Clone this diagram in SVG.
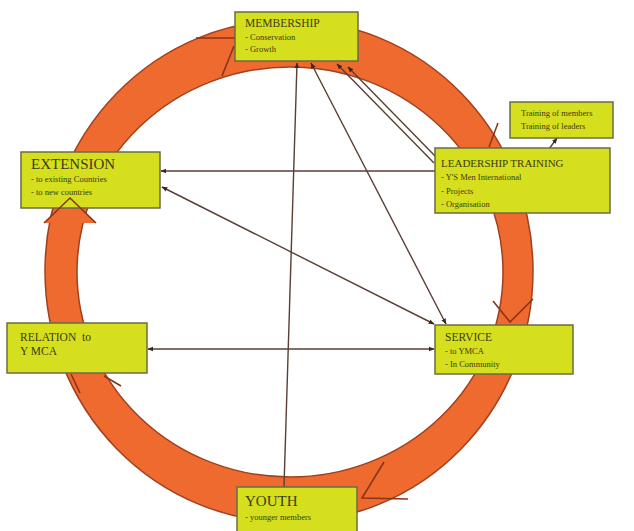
<svg xmlns="http://www.w3.org/2000/svg" width="634" height="531" viewBox="0 0 634 531">
<defs>
<style>
.box{fill:#d5df1e;stroke:#6b6b45;stroke-width:1.5}
.t{font-family:"Liberation Serif","Times New Roman",serif;fill:#3c3c14}
.h{font-size:11.5px}
.s{font-size:8.5px}
.con{stroke:#5a3f35;stroke-width:1.4;fill:none}
.chev{stroke:#8a3417;stroke-width:1.6;fill:none}
</style>
<marker id="ah" viewBox="0 0 10 10" refX="9" refY="5" markerWidth="6" markerHeight="6" orient="auto-start-reverse" markerUnits="userSpaceOnUse">
<path d="M0,1 L10,5 L0,9 z" fill="#3a2a22"/>
</marker>
</defs>
<rect width="634" height="531" fill="#ffffff"/>
<g id="ring">
<ellipse cx="289" cy="271" rx="244" ry="251" fill="#ee6a2e" stroke="#a04020" stroke-width="1.5"/>
<ellipse cx="290" cy="272" rx="213" ry="205" fill="#ffffff" stroke="#a04020" stroke-width="1.5"/>
<polygon points="44,223 70,198 96,223" fill="#ee6a2e"/>
<path class="chev" d="M196,38 L236,38 M222,76 L234,46"/>
<path class="chev" d="M71,374 L80,393 M104,376 L121,386"/>
<path class="chev" d="M384,462 L362,498 L408,499"/>
<path class="chev" d="M493,301 L510,322 L533,299"/>
<path class="chev" d="M498,123 L489,147"/>
</g>
<g id="connectors">
<line class="con" x1="284" y1="487" x2="297" y2="63" marker-end="url(#ah)"/>
<line class="con" x1="446" y1="324" x2="311" y2="63" marker-start="url(#ah)" marker-end="url(#ah)"/>
<line class="con" x1="434" y1="163" x2="337" y2="64" marker-end="url(#ah)"/>
<line class="con" x1="436" y1="157" x2="348" y2="67" marker-end="url(#ah)"/>
<line class="con" x1="435" y1="171" x2="161" y2="171" marker-end="url(#ah)"/>
<line class="con" x1="162" y1="187" x2="434" y2="324" marker-start="url(#ah)" marker-end="url(#ah)"/>
<line class="con" x1="148" y1="349" x2="434" y2="349" marker-start="url(#ah)" marker-end="url(#ah)"/>
<line class="con" x1="549" y1="149" x2="557" y2="138" marker-end="url(#ah)"/>
</g>
<g id="membership">
<rect class="box" x="235" y="12" width="123" height="49"/>
<text class="t h" x="245" y="27">MEMBERSHIP</text>
<text class="t s" x="245" y="40">- Conservation</text>
<text class="t s" x="245" y="52">- Growth</text>
</g>
<g id="extension">
<rect class="box" x="21" y="152" width="139" height="56"/>
<text class="t" x="31" y="169" font-size="15">EXTENSION</text>
<text class="t s" x="31" y="182">- to existing Countries</text>
<text class="t s" x="31" y="195">- to new countries</text>
</g>
<g id="leadership">
<rect class="box" x="435" y="148" width="175" height="65"/>
<text class="t" x="441" y="167" font-size="11">LEADERSHIP TRAINING</text>
<text class="t s" x="441" y="180">- Y'S Men International</text>
<text class="t s" x="441" y="194">- Projects</text>
<text class="t s" x="441" y="207">- Organisation</text>
</g>
<g id="training">
<rect class="box" x="510" y="102" width="103" height="36"/>
<text class="t s" x="521" y="116">Training of members</text>
<text class="t s" x="521" y="129">Training of leaders</text>
</g>
<g id="relation">
<rect class="box" x="7" y="323" width="140" height="50"/>
<text class="t h" x="20" y="341">RELATION&#160;&#160;to</text>
<text class="t h" x="20" y="355">Y MCA</text>
</g>
<g id="service">
<rect class="box" x="435" y="325" width="138" height="49"/>
<text class="t h" x="445" y="341">SERVICE</text>
<text class="t s" x="445" y="354">- to YMCA</text>
<text class="t s" x="445" y="367">- In Community</text>
</g>
<g id="youth">
<rect class="box" x="237" y="487" width="120" height="46"/>
<text class="t" x="245" y="506" font-size="15">YOUTH</text>
<text class="t s" x="245" y="520">- younger members</text>
</g>
<path class="chev" d="M44,223 L70,198 L96,223"/>
</svg>
